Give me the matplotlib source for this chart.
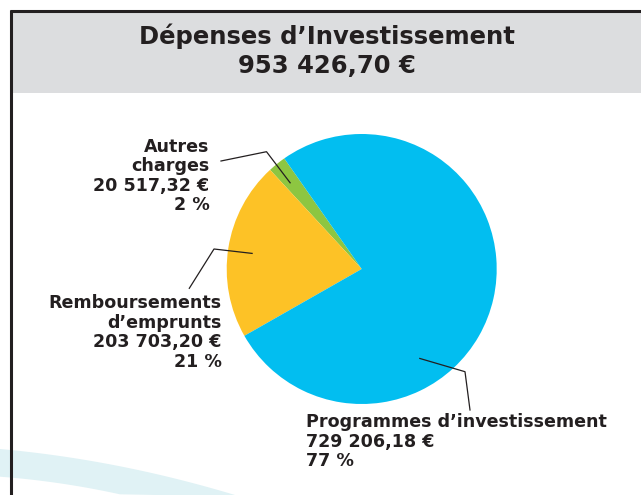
import matplotlib
matplotlib.use("Agg")
import matplotlib.pyplot as plt
import numpy as np
from matplotlib.patches import Rectangle, Polygon

# ---- data ----
categories = ["Programmes d\u2019investissement", "Remboursements\nd\u2019emprunts", "Autres\ncharges"]
values = [729206.18, 203703.20, 20517.32]
pct_labels = ["77 %", "21 %", "2 %"]
colors = ["#02BEF0", "#FDC226", "#8DC641"]
title_line1 = "D\u00e9penses d\u2019Investissement"
total_value = sum(values)


def fr_money(v):
    s = f"{v:,.2f}"
    s = s.replace(",", " ").replace(".", ",")
    return s + " \u20ac"


W, H = 641, 495
fig = plt.figure(figsize=(W / 100, H / 100), dpi=100)
fig.patch.set_facecolor("white")

# background overlay axes in pixel coordinates
ov = fig.add_axes([0, 0, 1, 1])
ov.set_xlim(0, W)
ov.set_ylim(H, 0)
ov.axis("off")

TXT = "#231F20"
FONT = "DejaVu Sans"

# background swoosh (decoration)
xs = np.linspace(0, 240, 60)
top = 449 + 0.09 * xs + 0.00045 * xs ** 2
xb = np.linspace(0, 120, 30)
bot = 476.7 + 0.075 * xb + 0.0006 * xb ** 2
poly = np.vstack([np.column_stack([xs, top]), np.column_stack([xb[::-1], bot[::-1]])])
ov.add_patch(Polygon(poly, closed=True, facecolor="#E0F2F5", edgecolor="none", zorder=0))

# header box
ov.add_patch(Rectangle((10, 10), 640, 82.5, facecolor="#DCDDDF", edgecolor="none", zorder=1))
ov.plot([10, W], [10.5, 10.5], color=TXT, lw=2.2, zorder=3, solid_capstyle="butt")
ov.plot([10.5, 10.5], [9.5, H], color=TXT, lw=2.2, zorder=3, solid_capstyle="butt")

ov.text(327, 36, title_line1, ha="center", va="center", fontsize=17.5,
        fontweight="bold", color=TXT, family=FONT, zorder=4)
ov.text(327, 66, fr_money(total_value), ha="center", va="center", fontsize=17.5,
        fontweight="bold", color=TXT, family=FONT, zorder=4)

# pie
cx, cy, R = 361.7, 269.0, 135.0
pax = fig.add_axes([(cx - R) / W, (H - cy - R) / H, 2 * R / W, 2 * R / H])
order = [2, 1, 0]
pax.pie([values[i] for i in order], colors=[colors[i] for i in order],
        startangle=125, counterclock=True, radius=1.0,
        wedgeprops=dict(linewidth=0))
pax.set_xlim(-1, 1)
pax.set_ylim(-1, 1)
pax.set_aspect("equal")
pax.axis("off")

# foreground overlay for leader lines and labels
fg = fig.add_axes([0, 0, 1, 1])
fg.set_xlim(0, W)
fg.set_ylim(H, 0)
fg.axis("off")
fg.patch.set_alpha(0)


def pt(angle_deg, frac):
    a = np.deg2rad(angle_deg)
    return cx + frac * R * np.cos(a), cy - frac * R * np.sin(a)


fs = 12.6
ls = 19.6

# Autres charges
p0 = pt(129.7, 0.83)
fg.plot([p0[0], 266.5, 221], [p0[1], 151.7, 161], color=TXT, lw=0.9)
lines = categories[2].split("\n") + [fr_money(values[2]), pct_labels[2]]
for k, s in enumerate(lines):
    fg.text(209.5, 151.5 + k * ls, s, ha="right", va="baseline", fontsize=fs,
            fontweight="bold", color=TXT, family=FONT)

# Remboursements
p1 = pt(171.9, 0.82)
fg.plot([p1[0], 214, 189.3], [p1[1], 249, 288.3], color=TXT, lw=0.9)
lines = categories[1].split("\n") + [fr_money(values[1]), pct_labels[1]]
for k, s in enumerate(lines):
    fg.text(221.5, 308 + k * ls, s, ha="right", va="baseline", fontsize=fs,
            fontweight="bold", color=TXT, family=FONT)

# Programmes
p2 = pt(303, 0.79)
fg.plot([p2[0], 465, 470], [p2[1], 371.7, 410], color=TXT, lw=0.9)
lines = [categories[0], fr_money(values[0]), pct_labels[0]]
for k, s in enumerate(lines):
    fg.text(306.5, 427 + k * ls, s, ha="left", va="baseline", fontsize=fs,
            fontweight="bold", color=TXT, family=FONT)

fig.savefig("out.png", dpi=100)
